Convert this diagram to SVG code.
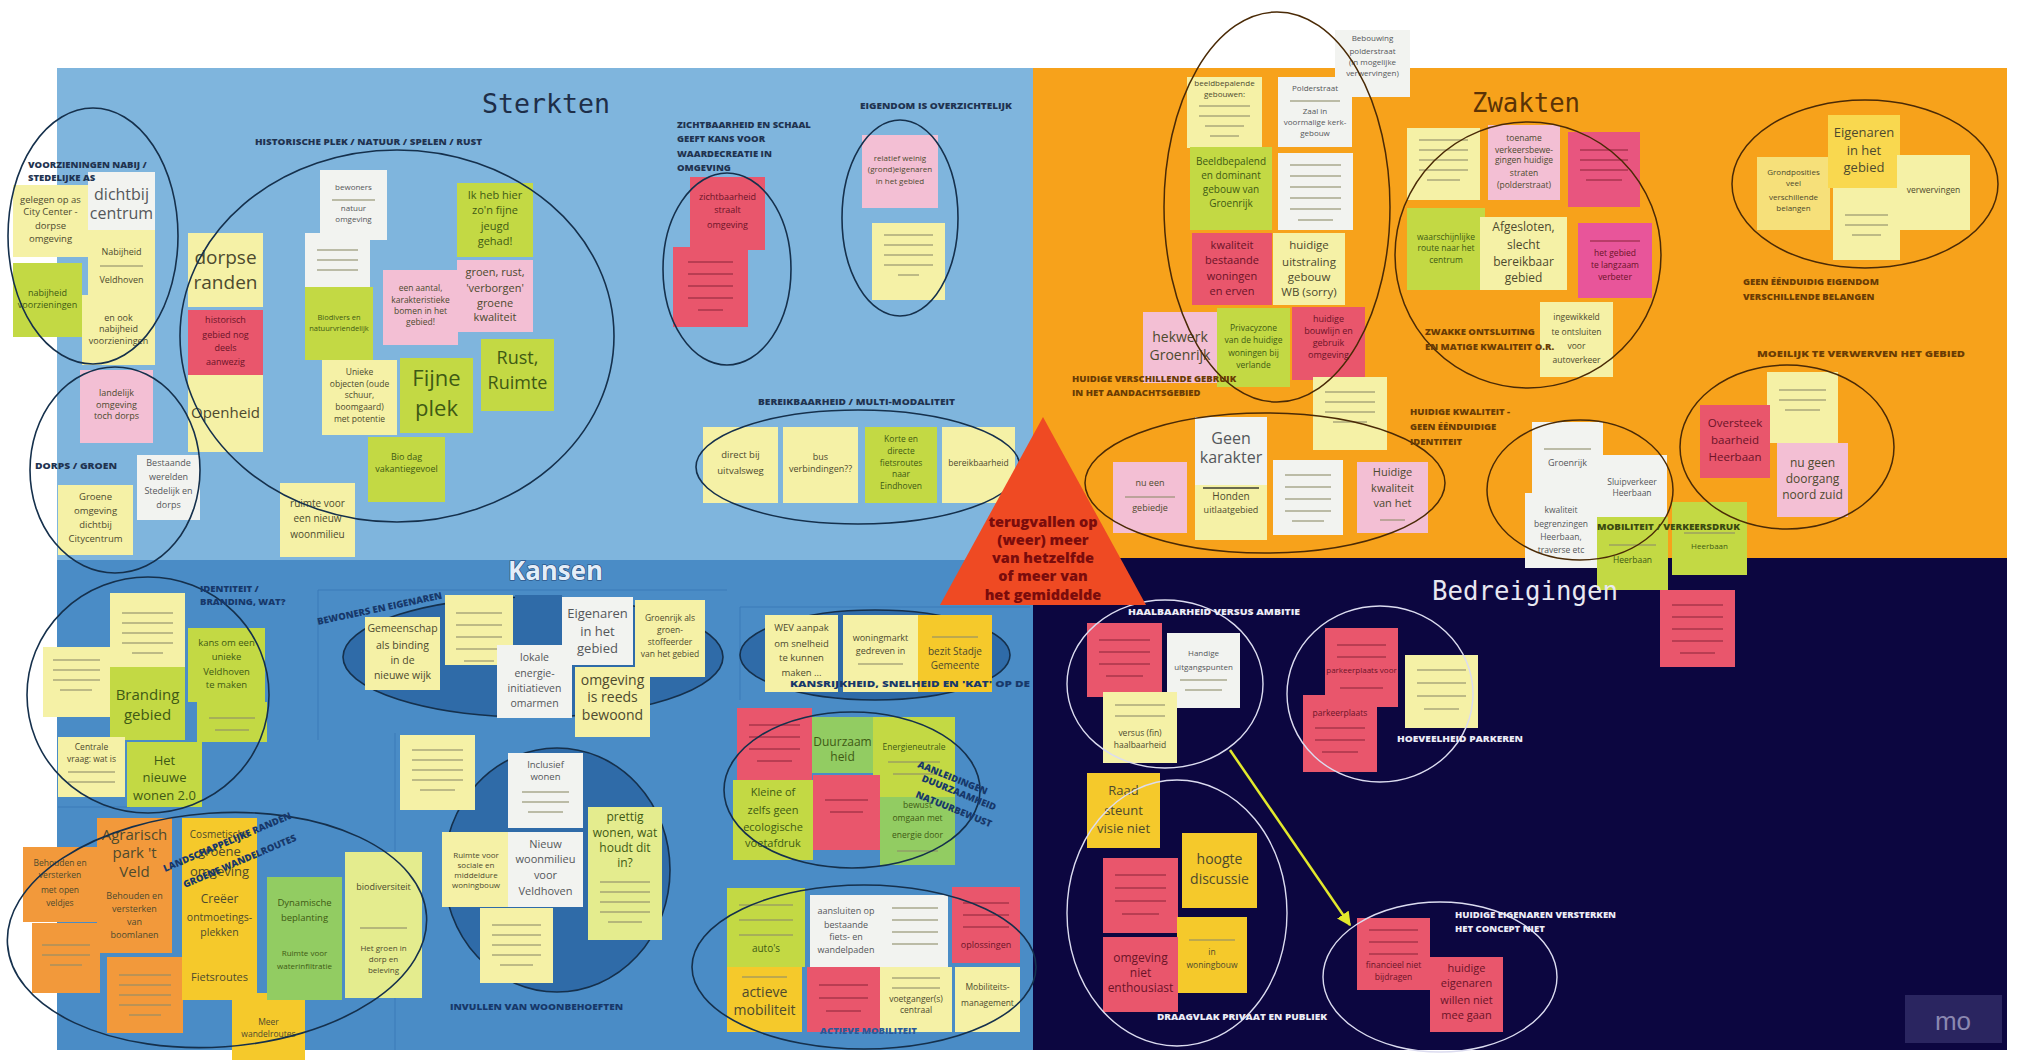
<svg xmlns="http://www.w3.org/2000/svg" width="2027" height="1060" viewBox="0 0 2027 1060">
<defs>
<style>
.t{font-family:'Open Sans','Liberation Sans',sans-serif;fill:#4d4a2e;text-anchor:middle}
.tr{fill:#6b1428}.tg{fill:#3f5a14}.tw{fill:#55575a}
.lb{font-family:'Open Sans','Liberation Sans',sans-serif;font-weight:800;font-size:9.5px}
.lS{fill:#1f3350}.lK{fill:#17386a}.lZ{fill:#6a3c04}.lB{fill:#ececf6}.lG{fill:#3b4a10}
.ly{fill:#f5f1a6}.wh{fill:#f2f3f0}.yg{fill:#c3d944}.gr{fill:#92cc62}.pk{fill:#f3bfd4}.rd{fill:#e9566c}.gd{fill:#f5c92b}.or{fill:#f2993b}.pg{fill:#e4ec8e}
.ln{stroke:#8e8c6a;stroke-width:2;opacity:.55;fill:none}
.lr{stroke:#8a2438;stroke-width:2;opacity:.5;fill:none}
.eb{fill:none;stroke:#15304c;stroke-width:1.6}
.ef{fill:#2f6ba8;stroke:#15304c;stroke-width:1.6}
.ez{fill:none;stroke:#4a2a06;stroke-width:1.5}
.ew{fill:none;stroke:#dcdcf0;stroke-width:1.4}
.title{font-family:'DejaVu Sans Mono','Liberation Mono',monospace;font-size:27px}
</style>
<marker id="ah" viewBox="0 0 10 10" refX="9" refY="5" markerWidth="14" markerHeight="14" markerUnits="userSpaceOnUse" orient="auto"><path d="M0,0 L10,5 L0,10 z" fill="#e2e82c"/></marker>
</defs>
<rect width="2027" height="1060" fill="#ffffff"/>
<g id="quadrants">
<rect x="57" y="68" width="976" height="492" fill="#7fb5dd"/>
<rect x="57" y="560" width="976" height="490" fill="#4a8cc6"/>
<rect x="1033" y="68" width="974" height="490" fill="#f7a21b"/>
<rect x="1033" y="558" width="974" height="492" fill="#0c0640"/>
<path d="M318 740 V590 H727 M740 700 V607 H1030 M58 807 H130 M395 733 V1050" stroke="#3a7bb8" stroke-width="1" fill="none"/>
</g>
<g id="kansen-fills">
<ellipse class="ef" cx="533" cy="657" rx="190" ry="60"/>
<ellipse class="ef" cx="875" cy="655" rx="135" ry="45"/>
<ellipse class="ef" cx="557" cy="870" rx="113" ry="122"/>
<rect x="515" y="595" width="47" height="50" fill="#2f6ba8"/>
</g>
<g id="notes-sterkten">
<g id="s01"><rect class="ly" x="13" y="185" width="75" height="72"/><text class="t" font-size="9.5"><tspan x="50.5" y="203">gelegen op as</tspan><tspan x="50.5" y="215">City Center -</tspan><tspan x="50.5" y="229">dorpse</tspan><tspan x="50.5" y="242">omgeving</tspan></text></g>
<g id="s02"><rect class="wh" x="88" y="172" width="67" height="58"/><text class="t tw" font-size="16"><tspan x="121.5" y="200">dichtbij</tspan><tspan x="121.5" y="219">centrum</tspan></text></g>
<g id="s03"><rect class="ly" x="88" y="230" width="67" height="65"/><text class="t" font-size="9"><tspan x="121.5" y="255">Nabijheid</tspan><tspan x="121.5" y="283">Veldhoven</tspan></text><path class="ln" d="M100 266 H143"/></g>
<g id="s04"><rect class="yg" x="13" y="263" width="69" height="74"/><text class="t tg" font-size="9"><tspan x="47.5" y="296">nabijheid</tspan><tspan x="47.5" y="308">voorzieningen</tspan></text></g>
<g id="s05"><rect class="ly" x="82" y="295" width="73" height="70"/><text class="t" font-size="9"><tspan x="118.5" y="321">en ook</tspan><tspan x="118.5" y="332">nabijheid</tspan><tspan x="118.5" y="344">voorzieningen</tspan></text></g>
<g id="s06"><rect class="ly" x="188" y="233" width="75" height="74"/><text class="t" font-size="19"><tspan x="225.5" y="264">dorpse</tspan><tspan x="225.5" y="289">randen</tspan></text></g>
<g id="s07"><rect class="rd" x="188" y="310" width="75" height="65"/><text class="t tr" font-size="9"><tspan x="225.5" y="323">historisch</tspan><tspan x="225.5" y="338">gebied nog</tspan><tspan x="225.5" y="351">deels</tspan><tspan x="225.5" y="365">aanwezig</tspan></text></g>
<g id="s08"><rect class="ly" x="188" y="375" width="75" height="77"/><text class="t" font-size="15" x="225.5" y="418">Openheid</text></g>
<g id="s09"><rect class="pk" x="80" y="370" width="73" height="73"/><text class="t" font-size="9"><tspan x="116.5" y="396">landelijk</tspan><tspan x="116.5" y="408">omgeving</tspan><tspan x="116.5" y="419">toch dorps</tspan></text></g>
<g id="s10"><rect class="wh" x="137" y="455" width="63" height="65"/><text class="t tw" font-size="9"><tspan x="168.5" y="466">Bestaande</tspan><tspan x="168.5" y="480">werelden</tspan><tspan x="168.5" y="494">Stedelijk en</tspan><tspan x="168.5" y="508">dorps</tspan></text></g>
<g id="s11"><rect class="ly" x="58" y="485" width="75" height="70"/><text class="t" font-size="9.5"><tspan x="95.5" y="500">Groene</tspan><tspan x="95.5" y="514">omgeving</tspan><tspan x="95.5" y="528">dichtbij</tspan><tspan x="95.5" y="542">Citycentrum</tspan></text></g>
<g id="s12"><rect class="wh" x="320" y="170" width="67" height="70"/><text class="t tw" font-size="8"><tspan x="353.5" y="190">bewoners</tspan><tspan x="353.5" y="211">natuur</tspan><tspan x="353.5" y="222">omgeving</tspan></text><path class="ln" d="M332 200 H375"/></g>
<g id="s13"><rect class="wh" x="305" y="233" width="65" height="57"/><path class="ln" d="M317 250 H358 M317 260 H358 M317 270 H358"/></g>
<g id="s14"><rect class="yg" x="305" y="287" width="68" height="73"/><text class="t tg" font-size="7.5"><tspan x="339" y="320">Biodivers en</tspan><tspan x="339" y="331">natuurvriendelijk</tspan></text></g>
<g id="s15"><rect class="pk" x="383" y="270" width="75" height="75"/><text class="t" font-size="8.5"><tspan x="420.5" y="291">een aantal,</tspan><tspan x="420.5" y="303">karakteristieke</tspan><tspan x="420.5" y="314">bomen in het</tspan><tspan x="420.5" y="325">gebied!</tspan></text></g>
<g id="s16"><rect class="yg" x="457" y="183" width="76" height="74"/><text class="t tg" font-size="11"><tspan x="495" y="199">Ik heb hier</tspan><tspan x="495" y="214">zo'n fijne</tspan><tspan x="495" y="230">jeugd</tspan><tspan x="495" y="245">gehad!</tspan></text></g>
<g id="s17"><rect class="pk" x="457" y="260" width="76" height="72"/><text class="t" font-size="11"><tspan x="495" y="276">groen, rust,</tspan><tspan x="495" y="292">'verborgen'</tspan><tspan x="495" y="307">groene</tspan><tspan x="495" y="321">kwaliteit</tspan></text></g>
<g id="s18"><rect class="yg" x="481" y="339" width="73" height="72"/><text class="t tg" font-size="18"><tspan x="517.5" y="364">Rust,</tspan><tspan x="517.5" y="389">Ruimte</tspan></text></g>
<g id="s19"><rect class="yg" x="400" y="358" width="73" height="75"/><text class="t tg" font-size="22"><tspan x="436.5" y="386">Fijne</tspan><tspan x="436.5" y="416">plek</tspan></text></g>
<g id="s20"><rect class="ly" x="322" y="360" width="75" height="75"/><text class="t" font-size="8.5"><tspan x="359.5" y="375">Unieke</tspan><tspan x="359.5" y="387">objecten (oude</tspan><tspan x="359.5" y="398">schuur,</tspan><tspan x="359.5" y="410">boomgaard)</tspan><tspan x="359.5" y="422">met potentie</tspan></text></g>
<g id="s21"><rect class="yg" x="368" y="437" width="77" height="65"/><text class="t tg" font-size="9"><tspan x="406.5" y="460">Bio dag</tspan><tspan x="406.5" y="472">vakantiegevoel</tspan></text></g>
<g id="s22"><rect class="ly" x="280" y="483" width="75" height="74"/><text class="t" font-size="10"><tspan x="317.5" y="507">ruimte voor</tspan><tspan x="317.5" y="522">een nieuw</tspan><tspan x="317.5" y="538">woonmilieu</tspan></text></g>
<g id="s23"><rect class="rd" x="690" y="177" width="75" height="73"/><text class="t tr" font-size="9"><tspan x="727.5" y="200">zichtbaarheid</tspan><tspan x="727.5" y="213">straalt</tspan><tspan x="727.5" y="228">omgeving</tspan></text></g>
<g id="s24"><rect class="rd" x="673" y="247" width="75" height="80"/><path class="lr" d="M688 262 H733 M688 274 H733 M688 286 H733 M688 298 H733 M698 310 H723"/></g>
<g id="s25"><rect class="pk" x="862" y="135" width="76" height="73"/><text class="t" font-size="8"><tspan x="900" y="161">relatief weinig</tspan><tspan x="900" y="172">(grond)eigenaren</tspan><tspan x="900" y="184">in het gebied</tspan></text></g>
<g id="s26"><rect class="ly" x="872" y="223" width="73" height="77"/><path class="ln" d="M884 235 H933 M884 245 H933 M884 255 H933 M884 265 H933 M898 275 H919"/></g>
<g id="s27"><rect class="ly" x="703" y="427" width="75" height="76"/><text class="t" font-size="9.5"><tspan x="740.5" y="458">direct bij</tspan><tspan x="740.5" y="474">uitvalsweg</tspan></text></g>
<g id="s28"><rect class="ly" x="783" y="427" width="75" height="76"/><text class="t" font-size="9"><tspan x="820.5" y="460">bus</tspan><tspan x="820.5" y="472">verbindingen??</tspan></text></g>
<g id="s29"><rect class="yg" x="865" y="427" width="72" height="76"/><text class="t tg" font-size="8.5"><tspan x="901" y="442">Korte en</tspan><tspan x="901" y="454">directe</tspan><tspan x="901" y="466">fietsroutes</tspan><tspan x="901" y="477">naar</tspan><tspan x="901" y="489">Eindhoven</tspan></text></g>
<g id="s30"><rect class="ly" x="942" y="427" width="73" height="76"/><text class="t" font-size="8.5" x="978.5" y="466">bereikbaarheid</text></g>
</g>
<g id="notes-kansen">
<g id="k31"><rect class="ly" x="110" y="593" width="75" height="74"/><path class="ln" d="M122 613 H173 M122 623 H173 M122 633 H173 M122 643 H173 M132 653 H163"/></g>
<g id="k32"><rect class="ly" x="43" y="647" width="67" height="70"/><path class="ln" d="M53 660 H100 M53 670 H100 M53 680 H100 M60 690 H92"/></g>
<g id="k33"><rect class="yg" x="110" y="667" width="75" height="73"/><text class="t tg" font-size="15"><tspan x="147.5" y="700">Branding</tspan><tspan x="147.5" y="720">gebied</tspan></text></g>
<g id="k34"><rect class="yg" x="188" y="628" width="77" height="74"/><text class="t tg" font-size="9.5"><tspan x="226.5" y="646">kans om een</tspan><tspan x="226.5" y="660">unieke</tspan><tspan x="226.5" y="675">Veldhoven</tspan><tspan x="226.5" y="688">te maken</tspan></text></g>
<g id="k35"><rect class="yg" x="197" y="702" width="70" height="40"/><path class="ln" d="M209 718 H255 M215 730 H249"/></g>
<g id="k36"><rect class="ly" x="58" y="737" width="67" height="60"/><text class="t" font-size="8.5"><tspan x="91.5" y="750">Centrale</tspan><tspan x="91.5" y="762">vraag: wat is</tspan></text><path class="ln" d="M68 772 H115 M68 782 H115"/></g>
<g id="k37"><rect class="yg" x="127" y="742" width="75" height="65"/><text class="t tg" font-size="13"><tspan x="164.5" y="765">Het</tspan><tspan x="164.5" y="782">nieuwe</tspan><tspan x="164.5" y="800">wonen 2.0</tspan></text></g>
<g id="k38"><rect class="or" x="97" y="818" width="75" height="135"/><text class="t" font-size="15" fill="#6a3a10"><tspan x="134.5" y="840">Agrarisch</tspan><tspan x="134.5" y="858">park 't</tspan><tspan x="134.5" y="877">Veld</tspan></text><text class="t" font-size="9"><tspan x="134.5" y="899">Behouden en</tspan><tspan x="134.5" y="912">versterken</tspan><tspan x="134.5" y="925">van</tspan><tspan x="134.5" y="938">boomlanen</tspan></text></g>
<g id="k39"><rect class="or" x="23" y="847" width="74" height="75"/><text class="t" font-size="8.5"><tspan x="60" y="866">Behouden en</tspan><tspan x="60" y="878">versterken</tspan><tspan x="60" y="893">met open</tspan><tspan x="60" y="906">veldjes</tspan></text></g>
<g id="k40"><rect class="or" x="32" y="923" width="68" height="70"/><path class="ln" d="M42 945 H90 M42 955 H90 M50 965 H82"/></g>
<g id="k41"><rect class="or" x="107" y="957" width="76" height="76"/><path class="ln" d="M119 975 H171 M119 985 H171 M119 995 H171 M119 1005 H171 M129 1015 H161"/></g>
<g id="k42"><rect class="gd" x="182" y="818" width="75" height="182"/><text class="t" font-size="10" x="219.5" y="838">Cosmetische</text><text class="t" font-size="13"><tspan x="219.5" y="856">groene</tspan><tspan x="219.5" y="876">omgeving</tspan></text><text class="t" font-size="12" x="219.5" y="903">Creëer</text><text class="t" font-size="10.5"><tspan x="219.5" y="921">ontmoetings-</tspan><tspan x="219.5" y="936">plekken</tspan></text><text class="t" font-size="11" x="219.5" y="981">Fietsroutes</text></g>
<g id="k43"><rect class="gd" x="232" y="993" width="73" height="67"/><text class="t" font-size="8.5"><tspan x="268.5" y="1025">Meer</tspan><tspan x="268.5" y="1037">wandelroutes</tspan></text></g>
<g id="k44"><rect class="gr" x="267" y="877" width="75" height="123"/><text class="t tg" font-size="9.5"><tspan x="304.5" y="906">Dynamische</tspan><tspan x="304.5" y="921">beplanting</tspan></text><text class="t tg" font-size="8"><tspan x="304.5" y="956">Ruimte voor</tspan><tspan x="304.5" y="969">waterinfiltratie</tspan></text></g>
<g id="k45"><rect class="pg" x="345" y="852" width="77" height="146"/><text class="t" font-size="9" x="383.5" y="890">biodiversiteit</text><path class="ln" d="M360 928 H407"/><text class="t" font-size="8"><tspan x="383.5" y="951">Het groen in</tspan><tspan x="383.5" y="962">dorp en</tspan><tspan x="383.5" y="973">beleving</tspan></text></g>
<g id="k46"><rect class="ly" x="365" y="617" width="75" height="73"/><text class="t" font-size="10.5"><tspan x="402.5" y="632">Gemeenschap</tspan><tspan x="402.5" y="649">als binding</tspan><tspan x="402.5" y="664">in de</tspan><tspan x="402.5" y="679">nieuwe wijk</tspan></text></g>
<g id="k47"><rect class="ly" x="445" y="595" width="68" height="70"/><path class="ln" d="M456 613 H502 M456 625 H502 M456 637 H502 M456 649 H502 M464 661 H494"/></g>
<g id="k48"><rect class="wh" x="497" y="645" width="75" height="73"/><text class="t tw" font-size="10.5"><tspan x="534.5" y="661">lokale</tspan><tspan x="534.5" y="677">energie-</tspan><tspan x="534.5" y="692">initiatieven</tspan><tspan x="534.5" y="707">omarmen</tspan></text></g>
<g id="k49"><rect class="wh" x="562" y="597" width="71" height="68"/><text class="t tw" font-size="13"><tspan x="597.5" y="618">Eigenaren</tspan><tspan x="597.5" y="636">in het</tspan><tspan x="597.5" y="653">gebied</tspan></text></g>
<g id="k50"><rect class="ly" x="635" y="600" width="70" height="77"/><text class="t" font-size="8.5"><tspan x="670" y="621">Groenrijk als</tspan><tspan x="670" y="633">groen-</tspan><tspan x="670" y="645">stoffeerder</tspan><tspan x="670" y="657">van het gebied</tspan></text></g>
<g id="k51"><rect class="ly" x="575" y="667" width="75" height="70"/><text class="t" font-size="14"><tspan x="612.5" y="685">omgeving</tspan><tspan x="612.5" y="702">is reeds</tspan><tspan x="612.5" y="720">bewoond</tspan></text></g>
<g id="k53"><rect class="ly" x="765" y="615" width="73" height="77"/><text class="t" font-size="9.5"><tspan x="801.5" y="631">WEV aanpak</tspan><tspan x="801.5" y="647">om snelheid</tspan><tspan x="801.5" y="661">te kunnen</tspan><tspan x="801.5" y="676">maken ...</tspan></text></g>
<g id="k54"><rect class="ly" x="843" y="615" width="75" height="77"/><text class="t" font-size="9"><tspan x="880.5" y="641">woningmarkt</tspan><tspan x="880.5" y="654">gedreven in</tspan></text><path class="ln" d="M858 664 H903"/></g>
<g id="k55"><rect class="gd" x="918" y="615" width="74" height="77"/><path class="ln" d="M932 637 H978"/><text class="t" font-size="10"><tspan x="955" y="655">bezit Stadje</tspan><tspan x="955" y="669">Gemeente</tspan></text></g>
<g id="k56"><rect class="rd" x="737" y="708" width="75" height="72"/><path class="lr" d="M749 725 H800 M749 737 H800 M749 749 H800 M757 761 H792"/></g>
<g id="k57"><rect class="gr" x="812" y="717" width="61" height="56"/><text class="t tg" font-size="12"><tspan x="842.5" y="746">Duurzaam</tspan><tspan x="842.5" y="761">heid</tspan></text></g>
<g id="k58"><rect class="yg" x="873" y="717" width="82" height="80"/><text class="t tg" font-size="8.5" x="914" y="750">Energieneutrale</text><path class="ln" d="M888 762 H940 M893 774 H935"/></g>
<g id="k59"><rect class="yg" x="733" y="780" width="80" height="80"/><text class="t tg" font-size="11"><tspan x="773" y="796">Kleine of</tspan><tspan x="773" y="814">zelfs geen</tspan><tspan x="773" y="831">ecologische</tspan><tspan x="773" y="847">voetafdruk</tspan></text></g>
<g id="k60"><rect class="rd" x="813" y="775" width="67" height="75"/><path class="lr" d="M825 800 H868 M830 812 H863"/></g>
<g id="k61"><rect class="gr" x="880" y="797" width="75" height="68"/><text class="t tg" font-size="8.5"><tspan x="917.5" y="808">bewust</tspan><tspan x="917.5" y="821">omgaan met</tspan><tspan x="917.5" y="838">energie door</tspan></text><path class="ln" d="M897 851 H938"/></g>
<g id="k62"><rect class="yg" x="727" y="888" width="78" height="79"/><path class="ln" d="M739 905 H793 M739 920 H793 M739 935 H793"/><text class="t tg" font-size="10" x="766" y="952">auto's</text></g>
<g id="k63"><rect class="wh" x="810" y="895" width="72" height="72"/><text class="t tw" font-size="9"><tspan x="846" y="914">aansluiten op</tspan><tspan x="846" y="928">bestaande</tspan><tspan x="846" y="940">fiets- en</tspan><tspan x="846" y="953">wandelpaden</tspan></text></g>
<g id="k64"><rect class="wh" x="882" y="895" width="66" height="72"/><path class="ln" d="M892 908 H938 M892 920 H938 M892 932 H938 M892 944 H938"/></g>
<g id="k65"><rect class="rd" x="952" y="887" width="68" height="76"/><path class="lr" d="M963 903 H1009 M963 915 H1009 M963 927 H1009"/><text class="t tr" font-size="9" x="986" y="948">oplossingen</text></g>
<g id="k66"><rect class="gd" x="727" y="967" width="75" height="65"/><path class="ln" d="M742 977 H787"/><text class="t" font-size="14"><tspan x="764.5" y="997">actieve</tspan><tspan x="764.5" y="1015">mobiliteit</tspan></text></g>
<g id="k67"><rect class="rd" x="807" y="967" width="73" height="65"/><path class="lr" d="M819 985 H868 M819 998 H868 M826 1011 H861"/></g>
<g id="k68"><rect class="ly" x="880" y="967" width="72" height="65"/><path class="ln" d="M892 978 H940 M892 988 H940"/><text class="t" font-size="8.5"><tspan x="916" y="1002">voetganger(s)</tspan><tspan x="916" y="1013">centraal</tspan></text></g>
<g id="k69"><rect class="ly" x="955" y="967" width="65" height="65"/><text class="t" font-size="8.5"><tspan x="987.5" y="990">Mobiliteits-</tspan><tspan x="987.5" y="1006">management</tspan></text></g>
<g id="k70"><rect class="ly" x="400" y="735" width="75" height="75"/><path class="ln" d="M412 750 H463 M412 760 H463 M412 770 H463 M412 780 H463 M420 790 H455"/></g>
<g id="k71"><rect class="wh" x="508" y="753" width="75" height="75"/><text class="t tw" font-size="9.5"><tspan x="545.5" y="768">Inclusief</tspan><tspan x="545.5" y="780">wonen</tspan></text><path class="ln" d="M522 792 H569 M522 802 H569 M528 812 H563"/></g>
<g id="k73"><rect class="ly" x="442" y="832" width="68" height="75"/><text class="t" font-size="8"><tspan x="476" y="858">Ruimte voor</tspan><tspan x="476" y="868">sociale en</tspan><tspan x="476" y="878">middeldure</tspan><tspan x="476" y="888">woningbouw</tspan></text></g>
<g id="k72"><rect class="wh" x="508" y="832" width="75" height="75"/><text class="t tw" font-size="11"><tspan x="545.5" y="848">Nieuw</tspan><tspan x="545.5" y="863">woonmilieu</tspan><tspan x="545.5" y="879">voor</tspan><tspan x="545.5" y="895">Veldhoven</tspan></text></g>
<g id="k74"><rect class="ly" x="480" y="908" width="73" height="75"/><path class="ln" d="M492 925 H541 M492 935 H541 M492 945 H541 M492 955 H541 M500 965 H533"/></g>
<g id="k75"><rect class="pg" x="588" y="807" width="74" height="133"/><text class="t tg" font-size="12"><tspan x="625" y="821">prettig</tspan><tspan x="625" y="837">wonen, wat</tspan><tspan x="625" y="852">houdt dit</tspan><tspan x="625" y="867">in?</tspan></text><path class="ln" d="M600 882 H650 M600 892 H650 M600 902 H650 M600 912 H650 M608 922 H642"/></g>
</g>
<g id="notes-zwakten">
<g id="z76"><rect class="wh" x="1335" y="30" width="75" height="67"/><text class="t tw" font-size="8"><tspan x="1372.5" y="41">Bebouwing</tspan><tspan x="1372.5" y="54">polderstraat</tspan><tspan x="1372.5" y="65">(in mogelijke</tspan><tspan x="1372.5" y="76">verwervingen)</tspan></text></g>
<g id="z77"><rect class="ly" x="1187" y="77" width="75" height="71"/><text class="t" font-size="8"><tspan x="1224.5" y="86">beeldbepalende</tspan><tspan x="1224.5" y="97">gebouwen:</tspan></text><path class="ln" d="M1199 106 H1250 M1199 116 H1250 M1205 126 H1244 M1210 136 H1239"/></g>
<g id="z78"><rect class="wh" x="1278" y="77" width="74" height="70"/><text class="t tw" font-size="8"><tspan x="1315" y="91">Polderstraat</tspan><tspan x="1315" y="114">Zaal in</tspan><tspan x="1315" y="125">voormalige kerk-</tspan><tspan x="1315" y="136">gebouw</tspan></text><path class="ln" d="M1290 101 H1340"/></g>
<g id="z79"><rect class="yg" x="1190" y="147" width="82" height="83"/><text class="t tg" font-size="10"><tspan x="1231" y="165">Beeldbepalend</tspan><tspan x="1231" y="179">en dominant</tspan><tspan x="1231" y="193">gebouw van</tspan><tspan x="1231" y="207">Groenrijk</tspan></text></g>
<g id="z80"><rect class="wh" x="1278" y="153" width="75" height="77"/><path class="ln" d="M1290 165 H1341 M1290 176 H1341 M1290 187 H1341 M1290 198 H1341 M1290 209 H1341 M1298 220 H1333"/></g>
<g id="z81"><rect class="rd" x="1192" y="233" width="80" height="72"/><text class="t tr" font-size="11"><tspan x="1232" y="249">kwaliteit</tspan><tspan x="1232" y="264">bestaande</tspan><tspan x="1232" y="280">woningen</tspan><tspan x="1232" y="295">en erven</tspan></text></g>
<g id="z82"><rect class="ly" x="1273" y="233" width="72" height="72"/><text class="t" font-size="11.5"><tspan x="1309" y="249">huidige</tspan><tspan x="1309" y="266">uitstraling</tspan><tspan x="1309" y="281">gebouw</tspan><tspan x="1309" y="296">WB (sorry)</tspan></text></g>
<g id="z84"><rect class="yg" x="1217" y="308" width="73" height="79"/><text class="t tg" font-size="8.5"><tspan x="1253.5" y="331">Privacyzone</tspan><tspan x="1253.5" y="343">van de huidige</tspan><tspan x="1253.5" y="356">woningen bij</tspan><tspan x="1253.5" y="368">verlande</tspan></text></g>
<g id="z83"><rect class="pk" x="1143" y="312" width="74" height="71"/><text class="t" font-size="14"><tspan x="1180" y="342">hekwerk</tspan><tspan x="1180" y="360">Groenrijk</tspan></text></g>
<g id="z85"><rect class="rd" x="1292" y="307" width="73" height="73"/><text class="t tr" font-size="9"><tspan x="1328.5" y="322">huidige</tspan><tspan x="1328.5" y="334">bouwlijn en</tspan><tspan x="1328.5" y="346">gebruik</tspan><tspan x="1328.5" y="358">omgeving</tspan></text></g>
<g id="z86"><rect class="ly" x="1313" y="377" width="74" height="73"/><path class="ln" d="M1325 392 H1375 M1325 402 H1375 M1325 412 H1375 M1333 422 H1367"/></g>
<g id="z87"><rect class="ly" x="1407" y="128" width="73" height="72"/><path class="ln" d="M1419 140 H1468 M1419 150 H1468 M1419 160 H1468 M1419 170 H1468 M1427 180 H1460"/></g>
<g id="z88"><rect class="pk" x="1488" y="125" width="72" height="75"/><text class="t" font-size="8.5"><tspan x="1524" y="141">toename</tspan><tspan x="1524" y="153">verkeersbewe-</tspan><tspan x="1524" y="163">gingen huidige</tspan><tspan x="1524" y="176">straten</tspan><tspan x="1524" y="188">(polderstraat)</tspan></text></g>
<g id="z89"><rect x="1568" y="132" width="72" height="75" fill="#e8557f"/><path class="lr" d="M1580 150 H1628 M1580 160 H1628 M1580 170 H1628 M1586 180 H1622"/></g>
<g id="z90"><rect class="yg" x="1407" y="208" width="78" height="82"/><text class="t tg" font-size="8.5"><tspan x="1446" y="240">waarschijnlijke</tspan><tspan x="1446" y="251">route naar het</tspan><tspan x="1446" y="263">centrum</tspan></text></g>
<g id="z91"><rect class="ly" x="1480" y="217" width="87" height="73"/><text class="t" font-size="12"><tspan x="1523.5" y="231">Afgesloten,</tspan><tspan x="1523.5" y="249">slecht</tspan><tspan x="1523.5" y="266">bereikbaar</tspan><tspan x="1523.5" y="282">gebied</tspan></text></g>
<g id="z92"><rect x="1578" y="223" width="74" height="75" fill="#e8559a"/><path class="lr" d="M1590 241 H1640"/><text class="t tr" font-size="8.5"><tspan x="1615" y="256">het gebied</tspan><tspan x="1615" y="268">te langzaam</tspan><tspan x="1615" y="280">verbeter</tspan></text></g>
<g id="z93"><rect class="ly" x="1540" y="302" width="73" height="75"/><text class="t" font-size="8.5"><tspan x="1576.5" y="320">ingewikkeld</tspan><tspan x="1576.5" y="335">te ontsluiten</tspan><tspan x="1576.5" y="349">voor</tspan><tspan x="1576.5" y="363">autoverkeer</tspan></text></g>
<g id="z95"><rect x="1757" y="157" width="73" height="73" fill="#f6e07a"/><text class="t" font-size="8"><tspan x="1793.5" y="175">Grondposities</tspan><tspan x="1793.5" y="186">veel</tspan><tspan x="1793.5" y="200">verschillende</tspan><tspan x="1793.5" y="211">belangen</tspan></text></g>
<g id="z94"><rect x="1828" y="115" width="72" height="73" fill="#f9d84f"/><text class="t" font-size="13"><tspan x="1864" y="137">Eigenaren</tspan><tspan x="1864" y="155">in het</tspan><tspan x="1864" y="172">gebied</tspan></text></g>
<g id="z97"><rect class="ly" x="1833" y="188" width="67" height="72"/><path class="ln" d="M1845 215 H1888 M1845 225 H1888 M1852 235 H1881"/></g>
<g id="z96"><rect class="ly" x="1897" y="155" width="73" height="75"/><text class="t" font-size="8.5" x="1933.5" y="193">verwervingen</text></g>
<g id="z98"><rect class="ly" x="1767" y="372" width="71" height="71"/><path class="ln" d="M1779 390 H1826 M1779 400 H1826 M1785 410 H1820"/></g>
<g id="z99"><rect class="rd" x="1700" y="405" width="70" height="73"/><text class="t tr" font-size="11.5"><tspan x="1735" y="427">Oversteek</tspan><tspan x="1735" y="444">baarheid</tspan><tspan x="1735" y="461">Heerbaan</tspan></text></g>
<g id="z100"><rect class="pk" x="1777" y="443" width="71" height="74"/><text class="t" font-size="12"><tspan x="1812.5" y="467">nu geen</tspan><tspan x="1812.5" y="483">doorgang</tspan><tspan x="1812.5" y="499">noord zuid</tspan></text></g>
<g id="z101"><rect class="pk" x="1113" y="462" width="74" height="71"/><text class="t" font-size="9"><tspan x="1150" y="486">nu een</tspan><tspan x="1150" y="511">gebiedje</tspan></text><path class="ln" d="M1125 497 H1175"/></g>
<g id="z102"><rect class="wh" x="1195" y="417" width="72" height="68"/><rect class="ly" x="1195" y="485" width="72" height="55"/><text class="t tw" font-size="16"><tspan x="1231" y="444">Geen</tspan><tspan x="1231" y="463">karakter</tspan></text><path d="M1203 488 H1259" stroke="#6a6a50" stroke-width="2"/><text class="t" font-size="10" x="1231" y="500">Honden</text><text class="t" font-size="9" x="1231" y="513">uitlaatgebied</text></g>
<g id="z103"><rect class="wh" x="1273" y="460" width="70" height="75"/><path class="ln" d="M1285 475 H1331 M1285 487 H1331 M1285 499 H1331 M1285 511 H1331 M1292 521 H1324"/></g>
<g id="z104"><rect class="pk" x="1357" y="462" width="71" height="71"/><text class="t" font-size="11"><tspan x="1392.5" y="476">Huidige</tspan><tspan x="1392.5" y="492">kwaliteit</tspan><tspan x="1392.5" y="507">van het</tspan></text><path class="ln" d="M1380 520 H1405"/></g>
<g id="z105"><rect class="wh" x="1532" y="422" width="71" height="71"/><path class="ln" d="M1544 449 H1591"/><text class="t tw" font-size="9" x="1567.5" y="466">Groenrijk</text></g>
<g id="z106"><rect class="wh" x="1597" y="455" width="70" height="72"/><text class="t tw" font-size="8.5"><tspan x="1632" y="485">Sluipverkeer</tspan><tspan x="1632" y="496">Heerbaan</tspan></text></g>
<g id="z107"><rect class="wh" x="1525" y="493" width="72" height="75"/><text class="t tw" font-size="8.5"><tspan x="1561" y="513">kwaliteit</tspan><tspan x="1561" y="527">begrenzingen</tspan><tspan x="1561" y="540">Heerbaan,</tspan><tspan x="1561" y="553">traverse etc</tspan></text></g>
<g id="z108"><rect class="yg" x="1597" y="517" width="71" height="73"/><path class="ln" d="M1609 545 H1656"/><text class="t tg" font-size="8.5" x="1632.5" y="563">Heerbaan</text></g>
<g id="z109"><rect class="yg" x="1672" y="502" width="75" height="73"/><path class="ln" d="M1684 533 H1735"/><text class="t tg" font-size="8" x="1709.5" y="549">Heerbaan</text></g>
<g id="z110"><rect class="rd" x="1660" y="590" width="75" height="77"/><path class="lr" d="M1672 605 H1723 M1672 617 H1723 M1672 629 H1723 M1672 641 H1723 M1680 653 H1715"/></g>
</g>
<g id="notes-bedreigingen">
<g id="b111"><rect class="rd" x="1087" y="623" width="75" height="74"/><path class="lr" d="M1099 640 H1150 M1099 652 H1150 M1099 664 H1150 M1106 676 H1143"/></g>
<g id="b112"><rect class="wh" x="1167" y="633" width="73" height="75"/><text class="t tw" font-size="8"><tspan x="1203.5" y="656">Handige</tspan><tspan x="1203.5" y="670">uitgangspunten</tspan></text><path class="ln" d="M1180 680 H1227 M1185 690 H1222"/></g>
<g id="b113"><rect class="ly" x="1103" y="692" width="74" height="71"/><path class="ln" d="M1115 705 H1165 M1115 716 H1165"/><text class="t" font-size="8.5"><tspan x="1140" y="736">versus (fin)</tspan><tspan x="1140" y="748">haalbaarheid</tspan></text></g>
<g id="b114"><rect class="rd" x="1325" y="628" width="73" height="79"/><path class="lr" d="M1337 645 H1386 M1337 657 H1386"/><text class="t tr" font-size="8" x="1361.5" y="673">parkeerplaats voor</text><path class="lr" d="M1340 688 H1383"/></g>
<g id="b115"><rect class="rd" x="1303" y="695" width="74" height="77"/><text class="t tr" font-size="8.5" x="1340" y="716">parkeerplaats</text><path class="lr" d="M1315 728 H1365 M1315 740 H1365 M1322 752 H1358"/></g>
<g id="b116"><rect class="ly" x="1405" y="655" width="73" height="73"/><path class="ln" d="M1417 670 H1466 M1417 683 H1466 M1417 696 H1466 M1424 709 H1459"/></g>
<g id="b117"><rect class="gd" x="1087" y="773" width="73" height="75"/><text class="t" font-size="13"><tspan x="1123.5" y="795">Raad</tspan><tspan x="1123.5" y="815">steunt</tspan><tspan x="1123.5" y="833">visie niet</tspan></text></g>
<g id="b118"><rect class="gd" x="1182" y="833" width="75" height="75"/><text class="t" font-size="14"><tspan x="1219.5" y="864">hoogte</tspan><tspan x="1219.5" y="884">discussie</tspan></text></g>
<g id="b119"><rect class="rd" x="1103" y="858" width="75" height="75"/><path class="lr" d="M1115 875 H1166 M1115 888 H1166 M1115 901 H1166 M1122 914 H1159"/></g>
<g id="b120"><rect class="gd" x="1177" y="917" width="70" height="76"/><path class="ln" d="M1189 940 H1235"/><text class="t" font-size="8.5"><tspan x="1212" y="955">in</tspan><tspan x="1212" y="968">woningbouw</tspan></text></g>
<g id="b121"><rect class="rd" x="1103" y="937" width="75" height="75"/><text class="t tr" font-size="12"><tspan x="1140.5" y="962">omgeving</tspan><tspan x="1140.5" y="977">niet</tspan><tspan x="1140.5" y="992">enthousiast</tspan></text></g>
<g id="b122"><rect class="rd" x="1357" y="918" width="73" height="72"/><path class="lr" d="M1369 930 H1418 M1369 942 H1418 M1369 954 H1418"/><text class="t tr" font-size="8.5"><tspan x="1393.5" y="968">financieel niet</tspan><tspan x="1393.5" y="980">bijdragen</tspan></text></g>
<g id="b123"><rect class="rd" x="1430" y="957" width="73" height="75"/><text class="t tr" font-size="11"><tspan x="1466.5" y="972">huidige</tspan><tspan x="1466.5" y="987">eigenaren</tspan><tspan x="1466.5" y="1004">willen niet</tspan><tspan x="1466.5" y="1019">mee gaan</tspan></text></g>
</g>
<g id="clusters-sterkten">
<g id="c-voorzieningen"><ellipse class="eb" cx="93" cy="236" rx="85" ry="128"/><text class="lb lS"><tspan x="28" y="168">VOORZIENINGEN NABIJ /</tspan><tspan x="28" y="181">STEDELIJKE AS</tspan></text></g>
<g id="c-dorps"><ellipse class="eb" cx="115" cy="470" rx="85" ry="103"/><text class="lb lS" x="35" y="469" textLength="82" lengthAdjust="spacingAndGlyphs">DORPS / GROEN</text></g>
<g id="c-historisch"><ellipse class="eb" cx="397" cy="336" rx="217" ry="186"/><text class="lb lS" x="255" y="145" textLength="227" lengthAdjust="spacingAndGlyphs">HISTORISCHE PLEK / NATUUR / SPELEN / RUST</text></g>
<g id="c-zichtbaarheid"><ellipse class="eb" cx="727" cy="269" rx="64" ry="96"/><text class="lb lS"><tspan x="677" y="128">ZICHTBAARHEID EN SCHAAL</tspan><tspan x="677" y="142">GEEFT KANS VOOR</tspan><tspan x="677" y="157">WAARDECREATIE IN</tspan><tspan x="677" y="171">OMGEVING</tspan></text></g>
<g id="c-eigendom"><ellipse class="eb" cx="900" cy="218" rx="58" ry="98"/><text class="lb lS" x="860" y="109" textLength="152" lengthAdjust="spacingAndGlyphs">EIGENDOM IS OVERZICHTELIJK</text></g>
<g id="c-bereikbaarheid"><ellipse class="eb" cx="858" cy="467" rx="162" ry="57"/><text class="lb lS" x="758" y="405" textLength="197" lengthAdjust="spacingAndGlyphs">BEREIKBAARHEID / MULTI-MODALITEIT</text></g>
</g>
<g id="clusters-kansen">
<g id="c-branding"><ellipse class="eb" cx="148" cy="695" rx="121" ry="118"/><text class="lb lK"><tspan x="200" y="592">IDENTITEIT /</tspan><tspan x="200" y="605">BRANDING, WAT?</tspan></text></g>
<g id="c-landschap"><ellipse class="eb" cx="217" cy="930" rx="210" ry="117" transform="rotate(-4 217 930)"/><text class="lb lK" font-size="11" transform="rotate(-23 165 872)" x="165" y="872">LANDSCHAPPELIJKE RANDEN</text><text class="lb lK" font-size="11" transform="rotate(-23 185 888)" x="185" y="888">GROENE WANDELROUTES</text></g>
<g id="c-eigenaren"><text class="lb lK" font-size="10" transform="rotate(-12 318 625)" x="318" y="625">BEWONERS EN EIGENAREN</text></g>
<g id="c-kansrijkheid"><text class="lb lK" x="790" y="687" textLength="240" lengthAdjust="spacingAndGlyphs">KANSRIJKHEID, SNELHEID EN 'KAT' OP DE</text></g>
<g id="c-duurzaamheid"><ellipse class="eb" cx="852" cy="790" rx="128" ry="78"/><text class="lb lK" font-size="10" transform="rotate(22 917 767)" x="917" y="767">AANLEIDINGEN</text><text class="lb lK" font-size="10" transform="rotate(22 921 781)" x="921" y="781">DUURZAAMHEID</text><text class="lb lK" font-size="10" transform="rotate(22 915 797)" x="915" y="797">NATUURBEWUST</text></g>
<g id="c-mobiliteit"><ellipse class="eb" cx="864" cy="967" rx="172" ry="82"/><text class="lb" fill="#2a5a9a" x="820" y="1034" textLength="97" lengthAdjust="spacingAndGlyphs">ACTIEVE MOBILITEIT</text></g>
<g id="c-woonbehoeften"><text class="lb lK" x="450" y="1010" textLength="173" lengthAdjust="spacingAndGlyphs">INVULLEN VAN WOONBEHOEFTEN</text></g>
</g>
<g id="clusters-zwakten">
<g id="c-gebruik"><ellipse class="ez" cx="1277" cy="207" rx="113" ry="195"/><text class="lb lZ"><tspan x="1072" y="382">HUIDIGE VERSCHILLENDE GEBRUIK</tspan><tspan x="1072" y="396">IN HET AANDACHTSGEBIED</tspan></text></g>
<g id="c-ontsluiting"><ellipse class="ez" cx="1528" cy="255" rx="133" ry="133"/><text class="lb lZ"><tspan x="1425" y="335">ZWAKKE ONTSLUITING</tspan><tspan x="1425" y="350">EN MATIGE KWALITEIT O.R.</tspan></text></g>
<g id="c-eigendom-z"><ellipse class="ez" cx="1865" cy="184" rx="133" ry="84"/><text class="lb lZ"><tspan x="1743" y="285">GEEN ÉÉNDUIDIG EIGENDOM</tspan><tspan x="1743" y="300">VERSCHILLENDE BELANGEN</tspan></text></g>
<g id="c-verwerven"><ellipse class="ez" cx="1787" cy="447" rx="107" ry="82"/><text class="lb lZ" font-size="8.5" x="1757" y="357" textLength="208" lengthAdjust="spacingAndGlyphs">MOEILIJK TE VERWERVEN HET GEBIED</text></g>
<g id="c-identiteit"><ellipse class="ez" cx="1265" cy="483" rx="180" ry="70"/><text class="lb lZ"><tspan x="1410" y="415">HUIDIGE KWALITEIT -</tspan><tspan x="1410" y="430">GEEN ÉÉNDUIDIGE</tspan><tspan x="1410" y="445">IDENTITEIT</tspan></text></g>
<g id="c-heerbaan"><ellipse class="ez" cx="1580" cy="490" rx="93" ry="70"/><text class="lb lG" font-size="8.5" x="1597" y="530" textLength="143" lengthAdjust="spacingAndGlyphs">MOBILITEIT / VERKEERSDRUK</text></g>
</g>
<g id="clusters-bedreigingen">
<g id="c-haalbaarheid"><ellipse class="ew" cx="1165" cy="684" rx="98" ry="84"/><text class="lb lB" x="1128" y="615" textLength="172" lengthAdjust="spacingAndGlyphs">HAALBAARHEID VERSUS AMBITIE</text></g>
<g id="c-parkeren"><ellipse class="ew" cx="1380" cy="694" rx="93" ry="88"/><text class="lb lB" x="1397" y="742" textLength="126" lengthAdjust="spacingAndGlyphs">HOEVEELHEID PARKEREN</text></g>
<g id="c-draagvlak"><ellipse class="ew" cx="1177" cy="913" rx="110" ry="133"/><text class="lb lB" x="1157" y="1020" textLength="170" lengthAdjust="spacingAndGlyphs">DRAAGVLAK PRIVAAT EN PUBLIEK</text></g>
<g id="c-eigenaren-b"><ellipse class="ew" cx="1440" cy="977" rx="117" ry="75"/><text class="lb lB"><tspan x="1455" y="918">HUIDIGE EIGENAREN VERSTERKEN</tspan><tspan x="1455" y="932">HET CONCEPT NIET</tspan></text></g>
</g>
<g id="triangle">
<polygon points="1043,417 940,605 1146,605" fill="#ef4a23"/>
<text class="t" font-size="14.5" font-weight="800" fill="#7a0c0c"><tspan x="1043" y="527" fill="#7a0c0c">terugvallen op</tspan><tspan x="1043" y="545" fill="#7a0c0c">(weer) meer</tspan><tspan x="1043" y="563" fill="#7a0c0c">van hetzelfde</tspan><tspan x="1043" y="581" fill="#7a0c0c">of meer van</tspan><tspan x="1043" y="600" fill="#7a0c0c">het gemiddelde</tspan></text>
</g>
<g id="titles">
<text class="title" x="482" y="113" fill="#1e2e48" textLength="128" lengthAdjust="spacingAndGlyphs">Sterkten</text>
<text class="title" x="1472" y="112" fill="#5a3306" textLength="108" lengthAdjust="spacingAndGlyphs">Zwakten</text>
<text x="508" y="580" font-family="'Open Sans','Liberation Sans',sans-serif" font-weight="700" font-size="27" fill="#e3edf8" stroke="#1d3f6e" stroke-width="1.2" paint-order="stroke" textLength="95" lengthAdjust="spacingAndGlyphs">Kansen</text>
<text class="title" x="1432" y="600" fill="#e8e8f2" textLength="186" lengthAdjust="spacingAndGlyphs">Bedreigingen</text>
</g>
<g id="logo"><rect x="1905" y="995" width="97" height="48" fill="#2a2560"/><text x="1953" y="1030" font-family="'Liberation Sans',sans-serif" font-size="26" fill="#8a88b0" text-anchor="middle">mo</text></g>
<g id="connectors">
<line x1="1230" y1="750" x2="1350" y2="925" stroke="#e2e82c" stroke-width="2.5" marker-end="url(#ah)"/>
</g>
</svg>
